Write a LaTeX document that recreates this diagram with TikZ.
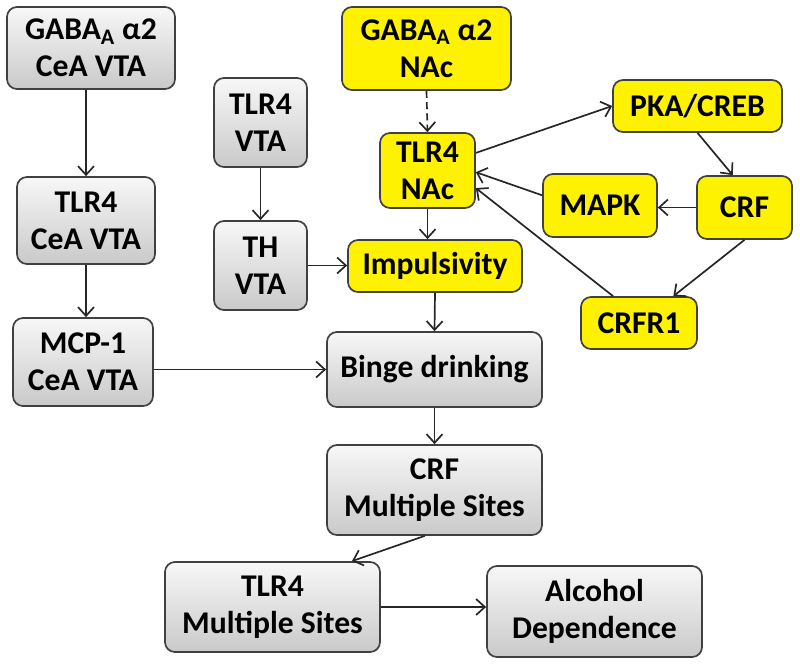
\documentclass[tikz,border=0pt]{standalone}
\usepackage{fontspec}
\setmainfont{Carlito}
\usepackage{tikz}
\usetikzlibrary{arrows.meta}
\tikzset{box/.style={draw=black!75, line width=1.2pt, rounded corners=0.25cm, align=center,
   font=\fontsize{22.5}{26.5}\selectfont\bfseries, inner sep=1pt},
 graybox/.style={box, top color=gray!6, bottom color=gray!42},
 yellowbox/.style={box, fill=yellow},
 link/.style={line width=1.2pt, draw=black!85, -{Straight Barb[length=2.2mm,width=4mm]}},
 }

\begin{document}
\begin{tikzpicture}[x=0.025cm, y=-0.025cm]
        \useasboundingbox (0,0) rectangle (800,664);

        % left column
        \node[graybox, minimum width=4.2cm, minimum height=2.05cm] (gabacea) at (91,48) {GABA\textsubscript{A} α2\\CeA VTA};
        \node[graybox, minimum width=3.45cm, minimum height=2.175cm] (tlrcea) at (86,220.5) {TLR4\\CeA VTA};
        \node[graybox, minimum width=3.5cm, minimum height=2.2cm] (mcpcea) at (83,362) {MCP-1\\CeA VTA};
        \node[graybox, minimum width=2.325cm, minimum height=2.225cm] (tlrvta) at (260.5,122.5) {TLR4\\VTA};
        \node[graybox, minimum width=2.325cm, minimum height=2.225cm] (thvta) at (260.5,265.5) {TH\\VTA};

        % NAc loop
        \node[yellowbox, minimum width=4.225cm, minimum height=2.075cm] (gabanac) at (426.5,48.5) {GABA\textsubscript{A} α2\\NAc};
        \node[yellowbox, minimum width=2.375cm, minimum height=1.875cm] (tlrnac) at (427.5,170.5) {TLR4\\NAc};
        \node[yellowbox, minimum width=4.35cm, minimum height=1.3cm] (impuls) at (435,266) {Impulsivity};
        \node[yellowbox, minimum width=4.225cm, minimum height=1.3cm] (pka) at (697.5,106) {PKA/CREB};
        \node[yellowbox, minimum width=2.85cm, minimum height=1.575cm] (mapk) at (600,205.5) {MAPK};
        \node[yellowbox, minimum width=2.375cm, minimum height=1.575cm] (crf) at (744.5,207.5) {CRF};
        \node[yellowbox, minimum width=2.9cm, minimum height=1.3cm] (crfr1) at (639,323) {CRFR1};

        % bottom
        \node[graybox, minimum width=5.375cm, minimum height=1.875cm] (binge) at (434.5,369.5) {Binge drinking};
        \node[graybox, minimum width=5.375cm, minimum height=2.25cm] (crfms) at (434.5,490) {CRF\\Multiple Sites};
        \node[graybox, minimum width=5.375cm, minimum height=2.25cm] (tlrms) at (272.5,607) {TLR4\\Multiple Sites};
        \node[graybox, minimum width=5.375cm, minimum height=2.275cm] (alcdep) at (594.5,611.5) {Alcohol\\Dependence};

        \draw[link] (gabacea.south -| tlrcea.north) -- (tlrcea.north);
        \draw[link] (tlrcea.south) -- (tlrcea.south |- mcpcea.north);
        \draw[link] (binge.west -| mcpcea.east) -- (binge.west);
        \draw[link] (tlrvta.south) -- (thvta.north);
        \draw[link] (thvta.east) -- (thvta.east -| impuls.west);

        \draw[link, dash pattern=on 5pt off 3pt] (gabanac.south) -- (tlrnac.north);
        \draw[link] (tlrnac.south) -- (tlrnac.south |- impuls.north);
        \draw[link] (tlrnac.20) -- (pka.west);
        \draw[link] (pka.south) -- (crf.110);
        \draw[link] (crf.west) -- (crf.west -| mapk.east);
        \draw[link] (mapk.170) -- (tlrnac.-2);
        \draw[link] (crfr1.134) -- (tlrnac.-20);
        \draw[link] (crf.south) -- (crfr1.38);

        \draw[link] (impuls.south) -- (binge.north);
        \draw[link] (binge.south) -- (crfms.north);
        \draw[link] (crfms.258) -- (tlrms.30);
        \draw[link] (tlrms.east) -- (tlrms.east -| alcdep.west);
    \end{tikzpicture}
\end{document}
